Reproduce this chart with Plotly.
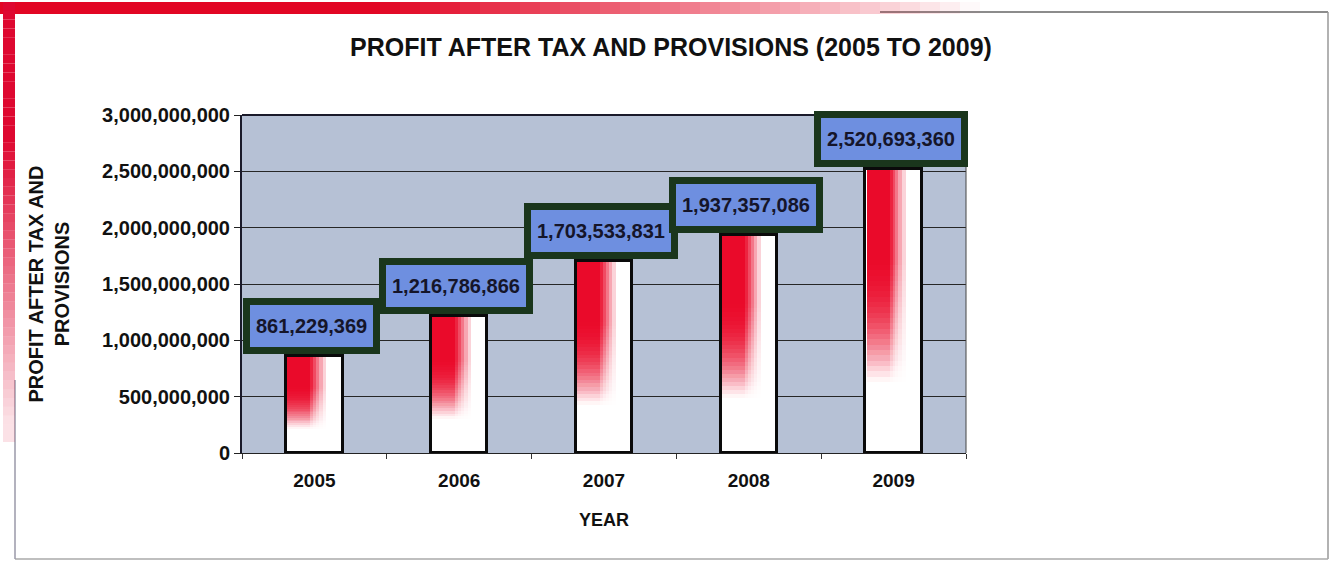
import plotly.graph_objects as go

years = ["2005", "2006", "2007", "2008", "2009"]
profits = [861229369, 1216786866, 1703533831, 1937357086, 2520693360]
label_texts = ["861,229,369", "1,216,786,866", "1,703,533,831", "1,937,357,086", "2,520,693,360"]

W, H = 1334, 561
L, R, T, B = 242, 368, 115, 108
PW, PH = W - L - R, H - T - B

fig = go.Figure()

BAR_W = 0.39
BAR_OFF = -BAR_W / 2

# white bars with black outline
fig.add_trace(go.Bar(x=years, y=profits, width=BAR_W, offset=BAR_OFF,
                     marker=dict(color="white", line=dict(color="#0a0a0a", width=3)),
                     hoverinfo="skip", showlegend=False))

# red gradient overlay (stacked segments derived from each value)
N = 40
DEPTH = 0.75
SOLID = 0.32
LAYERS = [(0.27, 0.18), (0.245, 0.22), (0.22, 0.3), (0.2, 0.4), (0.18, 0.6), (0.16, 1.0)]
for k in range(N):
    frac_mid = (k + 0.5) / N * DEPTH
    if frac_mid <= SOLID:
        a = 1.0
    else:
        a = max(0.0, 1 - (frac_mid - SOLID) / (DEPTH - SOLID))
    a = a ** 1.2
    bases = [v * (1 - (k + 1) * DEPTH / N) for v in profits]
    seg = [v * DEPTH / N for v in profits]
    for w, am in LAYERS:
        fig.add_trace(go.Bar(x=years, y=seg, base=bases, width=w, offset=BAR_OFF + 0.008,
                             marker=dict(color=f"rgba(234,10,42,{a*am:.3f})", line=dict(width=0)),
                             hoverinfo="skip", showlegend=False))

# outline on top
fig.add_trace(go.Bar(x=years, y=profits, width=BAR_W, offset=BAR_OFF,
                     marker=dict(color="rgba(0,0,0,0)", line=dict(color="#0a0a0a", width=3)),
                     hoverinfo="skip", showlegend=False))

for i, (v, t) in enumerate(zip(profits, label_texts)):
    fig.add_annotation(x=i, y=v, text=f"<b>{t}</b>", showarrow=False, xanchor="center", yanchor="bottom",
                       xshift=-3, yshift=2,
                       font=dict(family="Liberation Sans, Arial", size=20, color="#15152a"),
                       bgcolor="#6e8fe0", bordercolor="#1a361c", borderwidth=7, borderpad=6,
                       height=30)

# frame decorations in figure pixel space
def px_x(p):
    return (p - L) / PW

def px_y(p):
    return 1 - (p - T) / PH

shapes = []
# thin gray frame lines
shapes.append(dict(type="line", xref="paper", yref="paper", x0=px_x(880), x1=px_x(1328),
                   y0=px_y(12), y1=px_y(12), line=dict(color="#666", width=1.5)))
shapes.append(dict(type="line", xref="paper", yref="paper", x0=px_x(1328), x1=px_x(1328),
                   y0=px_y(12), y1=px_y(559), line=dict(color="#999", width=1.5)))
shapes.append(dict(type="line", xref="paper", yref="paper", x0=px_x(15), x1=px_x(1328),
                   y0=px_y(559), y1=px_y(559), line=dict(color="#aaa", width=1.5)))
shapes.append(dict(type="line", xref="paper", yref="paper", x0=px_x(15), x1=px_x(15),
                   y0=px_y(559), y1=px_y(380), line=dict(color="#9a98a8", width=1.5)))
# top red strip fading to the right
nseg = 50
for i in range(nseg):
    x0 = i * 1000 / nseg
    x1 = (i + 1) * 1000 / nseg
    xm = (x0 + x1) / 2
    a = 1.0 if xm < 380 else max(0.0, 1 - (xm - 380) / 600) ** 0.9
    shapes.append(dict(type="rect", xref="paper", yref="paper",
                       x0=px_x(x0), x1=px_x(x1), y0=px_y(14), y1=px_y(2),
                       fillcolor=f"rgba(226,6,36,{a:.3f})", line=dict(width=0), layer="above"))
# left red strip fading downward
for i in range(nseg):
    y0 = 2 + i * 440 / nseg
    y1 = 2 + (i + 1) * 440 / nseg
    ym = (y0 + y1) / 2
    a = 1.0 if ym < 140 else max(0.12, 1 - (ym - 140) / 320)
    shapes.append(dict(type="rect", xref="paper", yref="paper",
                       x0=px_x(3), x1=px_x(15), y0=px_y(y1), y1=px_y(y0),
                       fillcolor=f"rgba(222,8,48,{a:.3f})", line=dict(width=0), layer="above"))
shapes.append(dict(type="line", xref="paper", yref="paper", x0=0, x1=1, y0=1, y1=1,
                   line=dict(color="#1a1a2a", width=2)))
shapes.append(dict(type="line", xref="paper", yref="paper", x0=1, x1=1, y0=0, y1=1,
                   line=dict(color="#444", width=1)))

fig.update_layout(
    width=W, height=H,
    margin=dict(l=L, r=R, t=T, b=B, autoexpand=False),
    paper_bgcolor="white",
    plot_bgcolor="#b6c1d5",
    barmode="overlay",
    bargap=0,
    showlegend=False,
    shapes=shapes,
    font=dict(family="Liberation Sans, Arial", color="#111"),
    title=dict(text="<b>PROFIT AFTER TAX AND PROVISIONS (2005 TO 2009)</b>",
               x=671 / W, xanchor="center", y=1 - 47 / H, yanchor="middle",
               font=dict(size=25, color="#111", family="Liberation Sans, Arial")),
    xaxis=dict(type="category", range=[-0.5, 4.5], tickson="boundaries", ticks="outside", ticklen=5,
               tickcolor="#333", showgrid=False, showline=True, linecolor="#222", linewidth=1,
               tickangle=0, ticklabelstandoff=10,
               tickfont=dict(size=19, color="#111", family="Liberation Sans, Arial"),
               tickprefix="<b>", ticksuffix="</b>",
               title=dict(text="<b>YEAR</b>", font=dict(size=18, color="#111"), standoff=23)),
    yaxis=dict(range=[0, 3e9], dtick=5e8, tickformat=",d", ticks="outside", ticklen=6,
               tickcolor="#222", showgrid=True, gridcolor="#262626", gridwidth=1.3,
               showline=True, linecolor="#1a1a2a", linewidth=2, zeroline=False,
               tickprefix="<b>", ticksuffix="</b>",
               tickfont=dict(size=20, color="#111", family="Liberation Sans, Arial"),
               title=dict(text="<b>PROFIT AFTER TAX AND<br>PROVISIONS</b>",
                          font=dict(size=20, color="#111"), standoff=27)),
)

fig.write_html("out.html")
